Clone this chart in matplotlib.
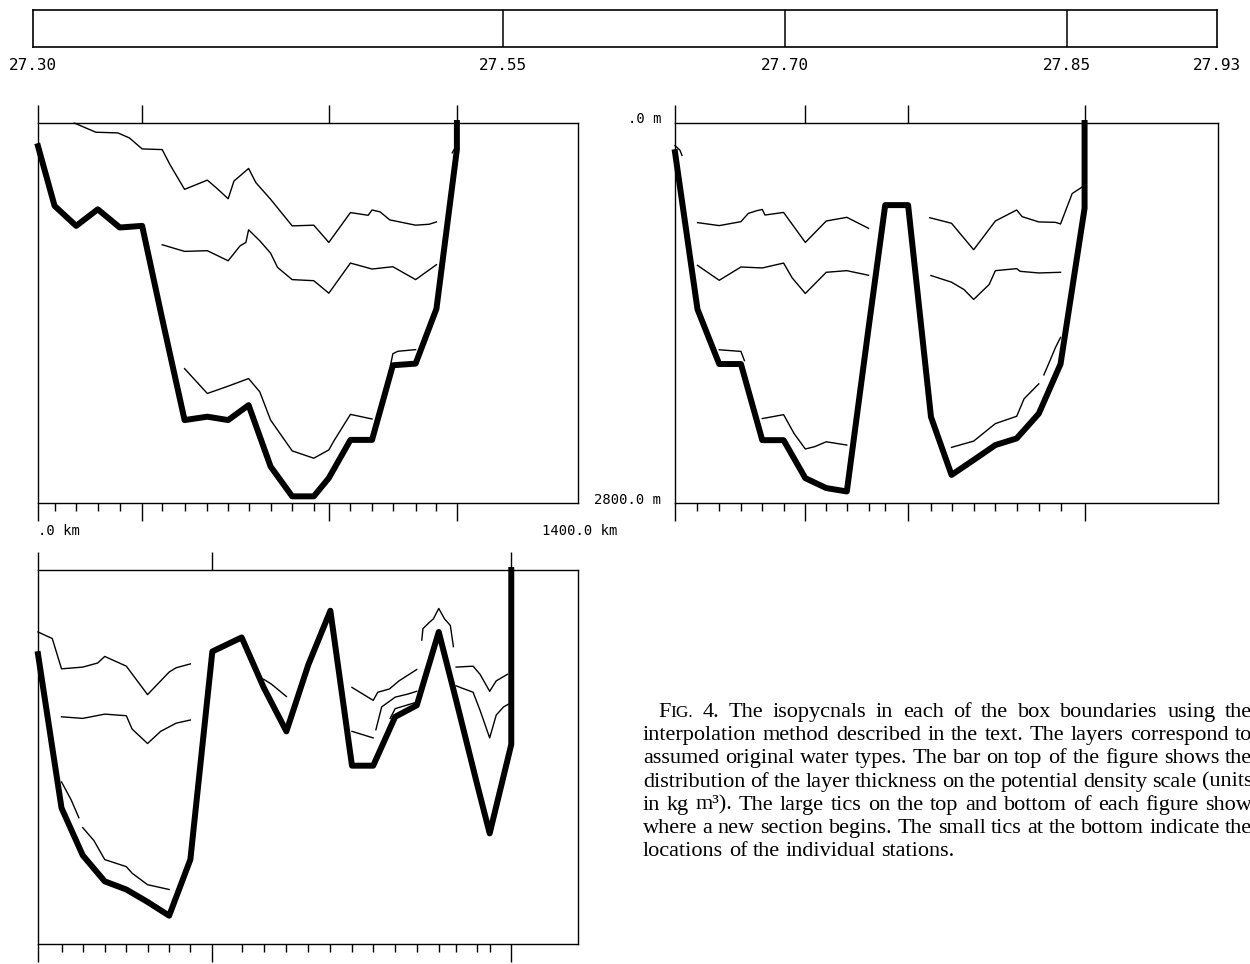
import matplotlib
matplotlib.use("Agg")
import matplotlib.pyplot as plt

W, H = 1250, 964

# density bar on top (kg m-3)
bar_edges = [27.30, 27.55, 27.70, 27.85, 27.93]
bar_labels = ["27.30", "27.55", "27.70", "27.85", "27.93"]

# ---- top-left section ----
tl_st = [0, 43, 99, 155, 212, 270, 322, 380, 439, 493, 546, 603, 659, 715,
         754, 810, 866, 920, 979, 1033, 1086]
tl_bottom = [171, 611, 758, 636, 770, 758, 1443, 2189, 2164, 2189, 2079,
             2531, 2751, 2751, 2616, 2335, 2335, 1785, 1773, 1369, 196]
tl_big = [0, 270, 754, 1086]
tl_iso1 = [(94, 0), (150, 68), (207, 73), (237, 110), (270, 191), (322, 196),
           (342, 306), (380, 489), (439, 421), (462, 477), (493, 558),
           (508, 428), (546, 335), (565, 440), (603, 562), (659, 758),
           (715, 753), (754, 880), (810, 660), (856, 680), (866, 641),
           (887, 655), (912, 714), (979, 753), (1014, 746), (1033, 729)]
tl_iso2 = [(322, 897), (380, 946), (439, 941), (493, 1015), (524, 905),
           (539, 880), (546, 787), (575, 868), (603, 959), (621, 1064),
           (659, 1154), (715, 1162), (754, 1254), (810, 1032), (866, 1076),
           (920, 1059), (979, 1154), (1033, 1044)]
tl_iso3 = [(380, 1810), (439, 1993), (493, 1939), (546, 1883), (575, 1981),
           (603, 2189), (659, 2416), (715, 2470), (754, 2409), (767, 2343),
           (810, 2147), (866, 2181)]
tl_iso4 = [(914, 1785), (920, 1700), (933, 1682), (979, 1670)]
tl_iso5 = [(1074, 220), (1081, 183), (1088, 171)]

# ---- top-right section ----
tr_st = [0, 58, 114, 170, 225, 280, 336, 390, 443, 499, 542, 601, 660, 713,
         770, 826, 881, 938, 994, 1056]
tr_bottom = [215, 1373, 1776, 1776, 2337, 2337, 2617, 2690, 2715, 1512, 605,
             605, 2166, 2593, 2483, 2373, 2324, 2141, 1776, 629]
tr_big = [0, 336, 601, 1056]
tr_iso1a = [(58, 734), (114, 756), (170, 727), (189, 666), (211, 646),
            (225, 637), (232, 678), (280, 659), (336, 880), (390, 722),
            (443, 695), (499, 776)]
tr_iso1b = [(657, 698), (713, 739), (770, 934), (826, 722), (881, 641),
            (895, 690), (938, 729), (981, 732), (994, 744), (1024, 520),
            (1050, 471)]
tr_iso2a = [(58, 1049), (114, 1159), (170, 1061), (225, 1068), (280, 1032),
            (302, 1141), (336, 1256), (390, 1100), (443, 1088), (499, 1122)]
tr_iso2b = [(660, 1124), (713, 1173), (745, 1227), (770, 1300), (810, 1190),
            (826, 1088), (881, 1073), (890, 1093), (938, 1105), (994, 1100)]
tr_iso3a = [(114, 1671), (170, 1683), (179, 1751)]
tr_iso3b = [(225, 2178), (280, 2149), (307, 2288), (336, 2402), (360, 2385),
            (390, 2349), (443, 2373)]
tr_iso3c = [(713, 2390), (770, 2344), (826, 2215), (881, 2161), (900, 2032),
            (938, 1922)]
tr_iso3d = [(951, 1856), (965, 1763), (981, 1654), (994, 1580)]
tr_iso4 = [(0, 166), (13, 202), (18, 239)]

# ---- bottom-left section ----
bl_st = [0, 61, 116, 173, 229, 284, 340, 395, 452, 528, 585, 644, 701, 758,
         814, 869, 926, 982, 1039, 1084, 1138, 1171, 1227]
bl_bottom = [630, 1782, 2136, 2331, 2392, 2485, 2588, 2168, 610, 505, 879,
             1208, 708, 305, 1465, 1465, 1099, 1013, 464, 974, 1599, 1972, 1306]
bl_big = [0, 452, 1227]
bl_iso1 = [(0, 464), (27, 500), (37, 513), (61, 740), (116, 727), (155, 696),
           (173, 647), (229, 720), (284, 933), (340, 764), (358, 732),
           (395, 703)]
bl_iso2 = [(61, 1099), (116, 1111), (173, 1079), (229, 1091), (244, 1191),
           (284, 1299), (318, 1208), (358, 1147), (395, 1123)]
bl_iso3a = [(61, 1587), (86, 1721), (106, 1855)]
bl_iso3b = [(116, 1929), (145, 2026), (173, 2168), (229, 2221), (244, 2270),
            (284, 2356), (340, 2392)]
bl_iso4 = [(585, 818), (605, 854), (644, 947)]
bl_iso5 = [(814, 879), (869, 976), (881, 915), (911, 891), (936, 830),
           (982, 745)]
bl_iso6 = [(814, 1208), (869, 1257)]
bl_iso7 = [(876, 1196), (891, 1025), (926, 952), (960, 928), (982, 908)]
bl_iso8 = [(913, 1111), (926, 1038), (982, 989)]
bl_iso9 = [(995, 525), (998, 439), (1015, 391), (1025, 366), (1039, 288),
           (1054, 366), (1069, 415), (1077, 574)]
bl_iso10 = [(1084, 727), (1128, 720), (1146, 781), (1171, 908), (1188, 830),
            (1217, 781)]
bl_iso11 = [(1084, 867), (1099, 884), (1128, 915), (1146, 1050), (1171, 1257),
            (1188, 1086), (1207, 1025), (1222, 1001)]

caption = [
    "FIG. 4. The isopycnals in each of the box boundaries using the",
    "interpolation method described in the text. The layers correspond to",
    "assumed original water types. The bar on top of the figure shows the",
    "distribution of the layer thickness on the potential density scale (units",
    "in kg m\u00b3). The large tics on the top and bottom of each figure show",
    "where a new section begins. The small tics at the bottom indicate the",
    "locations of the individual stations.",
]

mono = "DejaVu Sans Mono"
serif = "Liberation Serif"


def fx(px):
    return px / W


def fy(py):
    return 1 - py / H


def add_ax(x0, y0, x1, y1):
    return fig.add_axes([fx(x0), fy(y1), (x1 - x0) / W, (y1 - y0) / H])


def draw_panel(ax, st, bottom, big, lines):
    ax.plot(st + [st[-1]], bottom + [0], color="k", lw=4.3, clip_on=False)
    for ln in lines:
        xs, zs = zip(*ln)
        ax.plot(xs, zs, color="k", lw=1.0, clip_on=False)
    ax.set_xlim(0, 1400)
    ax.set_ylim(2800, 0)
    ax.set_yticks([])
    ax.set_xticks(big)
    ax.set_xticks(st, minor=True)
    ax.tick_params(which="major", direction="out", length=13, width=1.0,
                   top=True, bottom=True, labelbottom=False)
    ax.tick_params(which="minor", direction="out", length=6, width=1.0,
                   top=False, bottom=True)
    for s in ax.spines.values():
        s.set_linewidth(1.0)


fig = plt.figure(figsize=(W / 100, H / 100), dpi=100)

# density bar
axb = add_ax(33, 10, 1217, 47)
axb.set_xlim(bar_edges[0], bar_edges[-1])
axb.set_ylim(0, 1)
axb.set_xticks([])
axb.set_yticks([])
for s in axb.spines.values():
    s.set_linewidth(1.2)
for e in bar_edges[1:-1]:
    axb.axvline(e, color="k", lw=1.1)
for e, lab in zip(bar_edges, bar_labels):
    axb.text(e, -0.5, lab, ha="center", va="center", family=mono,
             fontsize=11.5, clip_on=False)

ax1 = add_ax(38, 123, 578, 503)
draw_panel(ax1, tl_st, tl_bottom, tl_big,
           [tl_iso1, tl_iso2, tl_iso3, tl_iso4, tl_iso5])

ax2 = add_ax(675, 123, 1218, 503)
draw_panel(ax2, tr_st, tr_bottom, tr_big,
           [tr_iso1a, tr_iso1b, tr_iso2a, tr_iso2b, tr_iso3a, tr_iso3b,
            tr_iso3c, tr_iso3d, tr_iso4])

ax3 = add_ax(38, 570, 578, 944)
draw_panel(ax3, bl_st, bl_bottom, bl_big,
           [bl_iso1, bl_iso2, bl_iso3a, bl_iso3b, bl_iso4, bl_iso5, bl_iso6,
            bl_iso7, bl_iso8, bl_iso9, bl_iso10, bl_iso11])

# axis end labels
fig.text(fx(38), fy(531), ".0 km", ha="left", va="center", family=mono, fontsize=10)
fig.text(fx(580), fy(531), "1400.0 km", ha="center", va="center", family=mono, fontsize=10)
fig.text(fx(661), fy(119), ".0 m", ha="right", va="center", family=mono, fontsize=10)
fig.text(fx(661), fy(500), "2800.0 m", ha="right", va="center", family=mono, fontsize=10)

# caption, justified
renderer = fig.canvas.get_renderer()
cap_size = 16
sc_size = 12.5


def text_w(s, size):
    t = fig.text(0, 0, s, fontsize=size, family=serif)
    w = t.get_window_extent(renderer).width
    t.remove()
    return w


def word_w(wd):
    if wd == "FIG.":
        return text_w("F", cap_size) + text_w("IG.", sc_size)
    return text_w(wd, cap_size)


def put_word(x, base, wd):
    if wd == "FIG.":
        fig.text(fx(x), fy(base), "F", fontsize=cap_size, family=serif,
                 va="baseline")
        x2 = x + text_w("F", cap_size)
        fig.text(fx(x2), fy(base), "IG.", fontsize=sc_size, family=serif,
                 va="baseline")
    else:
        fig.text(fx(x), fy(base), wd, fontsize=cap_size, family=serif,
                 va="baseline")


space = text_w("a b", cap_size) - text_w("ab", cap_size)
right_edge = 1252
for i, line in enumerate(caption):
    words = line.split(" ")
    widths = [word_w(wd) for wd in words]
    x = 658 if i == 0 else 643
    base = 717 + i * 23.2
    if i < len(caption) - 1:
        gap = (right_edge - x - sum(widths)) / (len(words) - 1)
    else:
        gap = space
    for wd, wdt in zip(words, widths):
        put_word(x, base, wd)
        x += wdt + gap

fig.savefig("out.png", dpi=100)
